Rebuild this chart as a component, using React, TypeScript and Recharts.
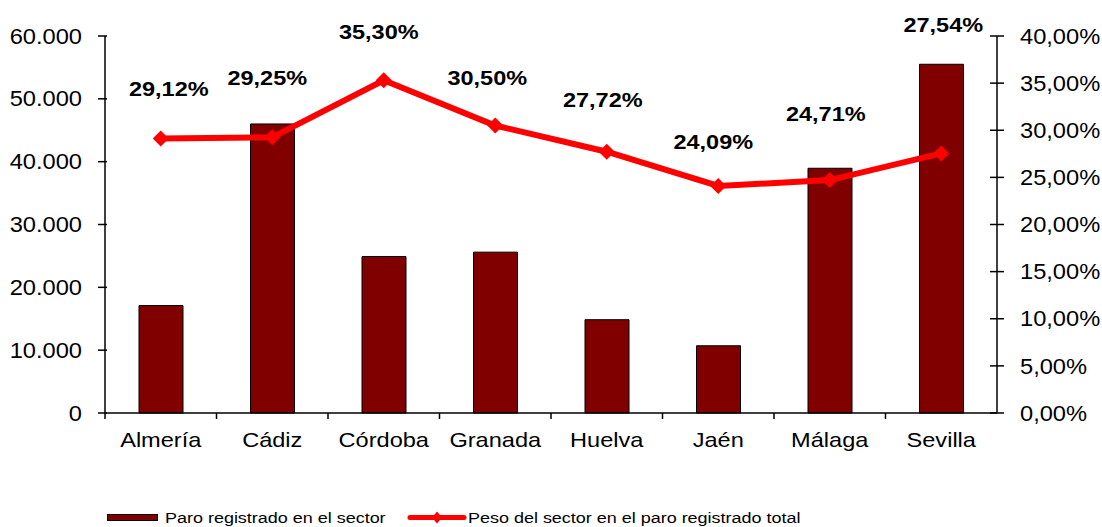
import { ComposedChart, Bar, Line, XAxis, YAxis, LabelList } from "recharts";

const provincias = ["Almería", "Cádiz", "Córdoba", "Granada", "Huelva", "Jaén", "Málaga", "Sevilla"];
const paroSector = [17100, 46000, 24900, 25600, 14850, 10700, 38950, 55500];
const pesoSector = [29.12, 29.25, 35.3, 30.5, 27.72, 24.09, 24.71, 27.54];
const leftTicks = [0, 10000, 20000, 30000, 40000, 50000, 60000];
const rightTicks = [0, 5, 10, 15, 20, 25, 30, 35, 40];

// label nudges (px) as placed in the original chart
const labelNudge = [
  [8, -50], [-5, -60], [-5, -49], [-8, -48], [-4, -52], [-5, -44], [-4, -67], [2, -129],
];

const data = provincias.map((p, i) => ({ p, paro: paroSector[i], peso: pesoSector[i] }));

const W = 1102;
const H = 527;
const AXIS_W = 105;
const BAND = (W - 2 * AXIS_W) / provincias.length;
const FONT = "'Liberation Sans', Arial, sans-serif";

const fmtMiles = (v: number) => (v === 0 ? "0" : v.toLocaleString("de-DE"));
const fmtPct = (v: number) => v.toFixed(2).replace(".", ",") + "%";

function LeftTick({ x, y, payload }: any) {
  return (
    <g>
      <line x1={x + 16} x2={x + 25} y1={y} y2={y} stroke="#000" strokeWidth={1.5} />
      <text transform={`translate(${x},${y}) scale(1.1,1)`} dy="0.355em" textAnchor="end" fontSize={21.5} fontFamily={FONT} fill="#000">
        {fmtMiles(payload.value)}
      </text>
    </g>
  );
}

function RightTick({ x, y, payload }: any) {
  return (
    <g>
      <line x1={x - 30} x2={x - 16} y1={y} y2={y} stroke="#000" strokeWidth={1.5} />
      <text transform={`translate(${x},${y}) scale(1.1,1)`} dy="0.355em" textAnchor="start" fontSize={21.5} fontFamily={FONT} fill="#000">
        {fmtPct(payload.value)}
      </text>
    </g>
  );
}

function CatTick({ x, y, payload }: any) {
  const axisY = y - 19;
  return (
    <g>
      <line x1={x - BAND / 2} x2={x - BAND / 2} y1={axisY} y2={axisY + 6} stroke="#000" strokeWidth={1.5} />
      <text transform={`translate(${x},${y}) scale(1.15,1)`} dy="0.71em" textAnchor="middle" fontSize={20.5} fontFamily={FONT} fill="#000">
        {payload.value}
      </text>
    </g>
  );
}

function Diamond({ cx, cy, index }: any) {
  const r = 8;
  return (
    <polygon key={`d${index}`} points={`${cx},${cy - r} ${cx + r},${cy} ${cx},${cy + r} ${cx - r},${cy}`} fill="#FF0000" />
  );
}

function PctLabel({ x, y, value, index }: any) {
  const [dx, dy] = labelNudge[index] || [0, -50];
  return (
    <text
      transform={`translate(${x + dx},${y + dy}) scale(1.12,1)`}
      dy="0.355em"
      textAnchor="middle"
      fontSize={21}
      fontWeight="bold"
      fontFamily={FONT}
      fill="#000"
    >
      {fmtPct(value)}
    </text>
  );
}

function Leyenda() {
  const txt = { fontSize: 15.5, fontFamily: FONT, fill: "#000" } as const;
  return (
    <svg width={W} height={27} style={{ position: "absolute", left: 0, top: 500 }}>
      <rect x={107.5} y={14.5} width={50} height={6} fill="#800000" stroke="#000" strokeWidth={1} />
      <text transform="translate(165,17.5) scale(1.16,1)" dy="0.355em" {...txt}>
        Paro registrado en el sector
      </text>
      <line x1={410} x2={464} y1={17.5} y2={17.5} stroke="#FF0000" strokeWidth={5} strokeLinecap="round" />
      <polygon points="437,11.5 442,17.5 437,23.5 432,17.5" fill="#FF0000" />
      <text transform="translate(468,17.5) scale(1.16,1)" dy="0.355em" {...txt}>
        Peso del sector en el paro registrado total
      </text>
    </svg>
  );
}

export default function App() {
  return (
    <div style={{ position: "absolute", left: 0, top: 0, width: W, height: H, background: "#fff" }}>
      <ComposedChart width={W} height={H} data={data} margin={{ top: 36, right: 0, bottom: 0, left: 0 }}>
        <XAxis
          dataKey="p"
          height={114}
          tick={<CatTick />}
          tickLine={false}
          tickSize={7}
          tickMargin={12}
          axisLine={{ stroke: "#000", strokeWidth: 1.5 }}
          interval={0}
        />
        <YAxis
          yAxisId="l"
          orientation="left"
          width={AXIS_W}
          domain={[0, 60000]}
          ticks={leftTicks}
          tick={<LeftTick />}
          tickLine={false}
          tickSize={7}
          tickMargin={16}
          axisLine={{ stroke: "#000", strokeWidth: 1.5 }}
          interval={0}
        />
        <YAxis
          yAxisId="r"
          orientation="right"
          width={AXIS_W}
          domain={[0, 40]}
          ticks={rightTicks}
          tick={<RightTick />}
          tickLine={false}
          tickSize={7}
          tickMargin={16}
          axisLine={{ stroke: "#000", strokeWidth: 1.5 }}
          interval={0}
        />
        <Bar yAxisId="l" dataKey="paro" fill="#800000" stroke="#000" strokeWidth={1} barSize={44} isAnimationActive={false} />
        <Line
          yAxisId="r"
          type="linear"
          dataKey="peso"
          stroke="#FF0000"
          strokeWidth={6}
          dot={<Diamond />}
          activeDot={false}
          isAnimationActive={false}
        >
          <LabelList dataKey="peso" content={<PctLabel />} />
        </Line>
      </ComposedChart>
      <Leyenda />
    </div>
  );
}
